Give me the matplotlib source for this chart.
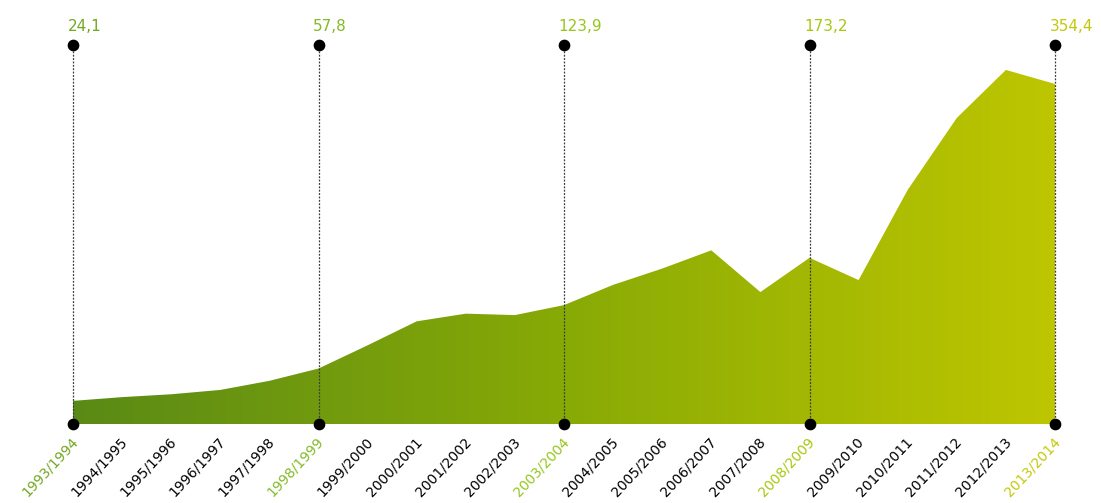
import numpy as np
import matplotlib
matplotlib.use('Agg')
import matplotlib.pyplot as plt
from matplotlib.colors import LinearSegmentedColormap

# ==========================================
# DATA
# ==========================================
SEASONS = ['1993/1994', '1994/1995', '1995/1996', '1996/1997', '1997/1998',
           '1998/1999', '1999/2000', '2000/2001', '2001/2002', '2002/2003',
           '2003/2004', '2004/2005', '2005/2006', '2006/2007', '2007/2008',
           '2008/2009', '2009/2010', '2010/2011', '2011/2012', '2012/2013',
           '2013/2014']
VALUES = [24.1, 28, 31, 35.5, 45, 57.8, 82, 107, 115, 113.5,
          123.9, 145, 162, 181, 137.5, 173.2, 150, 244, 319, 369, 354.4]
HIGHLIGHT = [0, 5, 10, 15, 20]
HIGHLIGHT_COLORS = ['#72a822', '#84ba28', '#96c61c', '#a6c810', '#c4c80c']

# ==========================================
# STYLE
# ==========================================
FILL_LEFT = '#5a8a16'
FILL_RIGHT = '#bec600'
Y_TOP = 395

fig = plt.figure(figsize=(11.01, 5.03), dpi=100)
ax = fig.add_axes([73 / 1101, (503 - 424) / 503, (1055 - 73) / 1101, 379 / 503])
ax.set_xlim(0, len(SEASONS) - 1)
ax.set_ylim(0, Y_TOP)
ax.axis('off')

x = np.arange(len(SEASONS))

# gradient area
poly = ax.fill_between(x, 0, VALUES, color='none', lw=0)
cmap = LinearSegmentedColormap.from_list('grad', [FILL_LEFT, '#88aa06', FILL_RIGHT])
grad = np.linspace(0, 1, 256).reshape(1, -1)
img = ax.imshow(grad, extent=(0, len(SEASONS) - 1, 0, Y_TOP), aspect='auto',
                cmap=cmap, origin='lower', zorder=1)
path = poly.get_paths()[0]
img.set_clip_path(path, transform=ax.transData)

# marker lines and dots
for i, c in zip(HIGHLIGHT, HIGHLIGHT_COLORS):
    ax.vlines(i, 0, Y_TOP, colors='#3a3a3a', linestyles=(0, (1.5, 1.2)), lw=0.9,
              zorder=2, clip_on=False)
    ax.scatter([i, i], [0, Y_TOP], s=55, color='black', zorder=4, clip_on=False)
    lab = f"{VALUES[i]:.1f}".replace('.', ',')
    ax.annotate(lab, (i, Y_TOP), xytext=(-4, 13), textcoords='offset points',
                ha='left', va='center', fontsize=11, color=c, annotation_clip=False)

# season labels
for i, s in enumerate(SEASONS):
    col = 'black'
    if i in HIGHLIGHT:
        col = HIGHLIGHT_COLORS[HIGHLIGHT.index(i)]
    ax.annotate(s, (i, 0), xytext=(2, -11), textcoords='offset points',
                ha='right', va='center', rotation=47, rotation_mode='anchor',
                fontsize=10, color=col, annotation_clip=False)

plt.savefig('out.png', dpi=100)
